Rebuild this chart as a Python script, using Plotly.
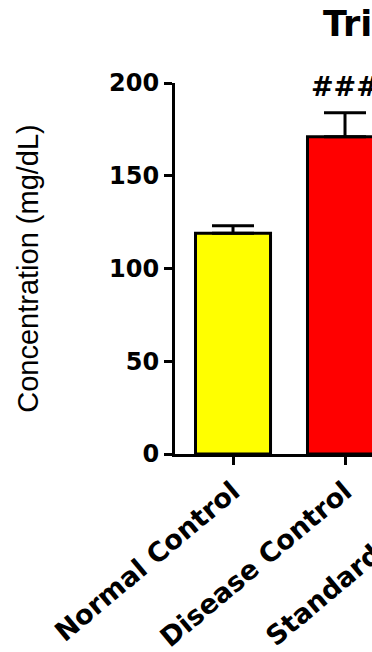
import plotly.graph_objects as go

# ---- data ----
categories = ["Normal Control", "Disease Control"]
values = [119, 171]
errors = [4, 13]
bar_colors = ["#FFFF00", "#FF0000"]
significance = ["", "###"]
hidden_category = "Standard Control"   # third group, only partly visible at the right edge
y_ticks = [0, 50, 100, 150, 200]
title_text = "Triglycerides"
y_title = "Concentration (mg/dL)"

W, H = 372, 652
ML, MR, MT, MB = 175, 0, 83, 198
plot_w = W - ML - MR
plot_h = H - MT - MB

fig = go.Figure()
fig.add_trace(go.Bar(
    x=categories, y=values, width=0.67,
    marker=dict(color=bar_colors, line=dict(color="black", width=3)),
    error_y=dict(type="data", symmetric=False, array=errors,
                 arrayminus=[0] * len(errors), color="black",
                 thickness=3, width=21),
    showlegend=False,
))

# significance marks above bars
for cat, v, e, s in zip(categories, values, errors, significance):
    if s:
        fig.add_annotation(x=cat, y=198, xref="x", yref="y", text=s,
                           showarrow=False, yanchor="middle",
                           font=dict(family="DejaVu Sans", size=27, color="black",
                                     weight="bold"))

# tick label of the category that lies beyond the visible right edge
fig.add_annotation(
    x=(369 - ML) / plot_w, y=(H - MB - 556) / plot_h, xref="paper", yref="paper",
    text=hidden_category, showarrow=False, textangle=-40,
    xanchor="center", yanchor="middle",
    font=dict(family="DejaVu Sans", size=27, color="black", weight="bold"))

fig.update_layout(
    width=W, height=H,
    margin=dict(l=ML, r=MR, t=MT, b=MB, pad=0),
    paper_bgcolor="white", plot_bgcolor="white",
    title=dict(text=title_text, x=323 / W, xanchor="left", xref="container",
               y=1 - 24 / H, yanchor="middle", yref="container",
               font=dict(family="DejaVu Sans", size=35, color="black",
                         weight="bold")),
    bargap=0.3,
)
fig.update_xaxes(
    range=[-0.518, 1.241], showline=True, linewidth=3, linecolor="black",
    ticks="outside", ticklen=8, tickwidth=3, tickcolor="black",
    tickangle=-40, showgrid=False, zeroline=False,
    tickfont=dict(family="DejaVu Sans", size=27, color="black", weight="bold"),
)
fig.update_yaxes(
    range=[0, 200], tickvals=y_ticks, showline=True, linewidth=3, linecolor="black",
    ticks="outside", ticklen=8, tickwidth=3, tickcolor="black",
    showgrid=False, zeroline=False,
    tickfont=dict(family="DejaVu Sans", size=24, color="black", weight="bold"),
    title=dict(text=y_title, standoff=62,
               font=dict(family="Liberation Sans, Arial", size=29, color="black")),
)

fig.write_html(
    "out.html",
    config={"displayModeBar": False},
    post_script="document.body.style.margin='0';"
                "document.body.style.overflow='hidden';"
                "document.documentElement.style.overflow='hidden';",
)
